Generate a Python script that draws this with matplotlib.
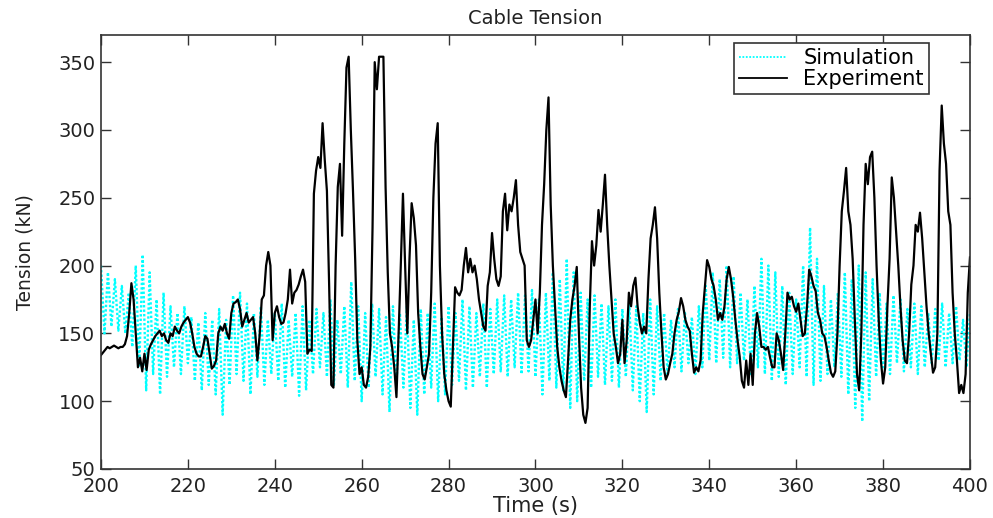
import numpy as np
import matplotlib
matplotlib.use("Agg")
import matplotlib.pyplot as plt

plt.rcParams['font.family'] = ['DejaVu Sans']

# Experiment: measured cable tension (kN), sampled every 0.5 s from 200 s
exp_start, exp_step = 200.0, 0.5
experiment = [
    134, 136, 138, 140, 139, 140, 141, 140, 139, 140,
    140, 142, 148, 165, 187, 175, 150, 125, 132, 122,
    135, 123, 138, 142, 145, 148, 150, 152, 148, 150,
    145, 143, 150, 148, 155, 152, 150, 155, 158, 160,
    162, 158, 150, 140, 135, 133, 133, 140, 148, 146,
    135, 124, 126, 130, 150, 155, 152, 157, 150, 146,
    165, 172, 173, 175, 168, 155, 160, 165, 158, 160,
    162, 150, 130, 148, 175, 178, 200, 210, 200, 145,
    165, 170, 162, 157, 158, 165, 175, 197, 172, 180,
    182, 186, 192, 197, 188, 135, 138, 137, 253, 270,
    280, 272, 305, 278, 255, 187, 112, 110, 200, 258,
    275, 222, 290, 346, 354, 300, 255, 205, 145, 120,
    125, 112, 110, 118, 140, 228, 350, 330, 354, 354,
    354, 258, 195, 150, 140, 125, 103, 150, 200, 253,
    200, 150, 205, 246, 235, 215, 165, 140, 120, 116,
    125, 135, 180, 250, 290, 305, 200, 150, 120, 108,
    100, 96, 140, 184, 180, 178, 182, 200, 213, 195,
    205, 195, 200, 190, 175, 165, 155, 152, 185, 195,
    224, 205, 190, 185, 192, 240, 253, 226, 245, 240,
    250, 263, 230, 210, 205, 200, 145, 140, 145, 160,
    175, 150, 180, 230, 260, 300, 324, 245, 200, 170,
    140, 125, 115, 108, 103, 130, 160, 175, 185, 199,
    150, 110, 90, 84, 95, 170, 218, 200, 215, 241,
    225, 245, 267, 230, 200, 175, 150, 140, 128, 135,
    160, 128, 145, 180, 170, 185, 191, 170, 158, 150,
    155, 150, 190, 220, 230, 243, 220, 180, 150, 125,
    116, 120, 128, 135, 150, 160, 166, 176, 170, 160,
    155, 152, 135, 121, 125, 122, 130, 165, 185, 204,
    199, 190, 185, 175, 160, 165, 160, 170, 190, 199,
    190, 177, 160, 145, 133, 115, 110, 130, 112, 135,
    112, 150, 165, 155, 140, 140, 138, 140, 132, 125,
    125, 150, 145, 135, 123, 150, 180, 175, 177, 170,
    166, 172, 160, 148, 150, 170, 197, 192, 185, 181,
    165, 160, 150, 148, 140, 130, 121, 118, 122, 150,
    200, 240, 255, 272, 240, 230, 205, 160, 120, 108,
    150, 230, 275, 260, 280, 284, 250, 200, 160, 130,
    113, 125, 170, 205, 265, 250, 225, 200, 170, 145,
    130, 128, 150, 186, 200, 230, 225, 239, 220, 195,
    170, 150, 135, 121, 125, 150, 270, 318, 290, 275,
    240, 230, 180, 150, 130, 106, 112, 106, 120, 180,
    206,
]

# Simulation: computed tension, alternating crests and troughs every 0.8 s
sim_step = 0.8
sim_crests = [
    200, 195, 190, 185, 180, 200, 208, 195, 175, 180,
    170, 165, 170, 162, 158, 165, 160, 168, 160, 178,
    180, 172, 165, 170, 160, 165, 172, 160, 165, 170,
    160, 168, 165, 175, 160, 170, 188, 170, 165, 172,
    168, 162, 170, 165, 170, 160, 168, 165, 172, 162,
    170, 165, 175, 170, 165, 172, 168, 175, 178, 175,
    180, 178, 182, 175, 180, 195, 190, 205, 195, 180,
    175, 178, 172, 170, 175, 168, 172, 170, 165, 175,
    170, 165, 160, 168, 165, 162, 170, 185, 195, 190,
    200, 192, 180, 175, 185, 205, 200, 195, 185, 180,
    175, 200, 228, 205, 185, 175, 180, 195, 190, 200,
    195, 190, 180, 172, 178, 175, 168, 172, 170, 165,
    168, 172, 165, 170, 160, 165,
]
sim_troughs = [
    150, 155, 152, 150, 140, 125, 108, 120, 105, 118,
    125, 120, 128, 115, 108, 112, 105, 90, 112, 120,
    115, 105, 118, 112, 120, 115, 110, 118, 104, 108,
    120, 125, 118, 112, 120, 110, 115, 100, 110, 118,
    105, 92, 112, 110, 95, 90, 105, 110, 100, 105,
    112, 115, 108, 110, 118, 110, 120, 122, 118, 125,
    120, 122, 118, 105, 115, 110, 108, 95, 100, 115,
    110, 118, 112, 115, 110, 118, 108, 100, 92, 105,
    115, 120, 125, 122, 128, 120, 125, 130, 128, 132,
    125, 128, 130, 120, 125, 120, 115, 118, 112, 120,
    125, 118, 112, 115, 120, 125, 118, 105, 95, 85,
    100, 118, 125, 120, 128, 122, 125, 120, 125, 128,
    130, 125, 128, 130, 125,
]

sim_values = []
for k, crest in enumerate(sim_crests):
    sim_values.append(crest)
    if k < len(sim_troughs):
        sim_values.append(sim_troughs[k])
sim_values = np.array(sim_values, dtype=float)
sim_t = 200.0 + sim_step * np.arange(len(sim_values))

exp_values = np.array(experiment, dtype=float)
exp_t = exp_start + exp_step * np.arange(len(exp_values))

x_ticks = [200, 220, 240, 260, 280, 300, 320, 340, 360, 380, 400]
y_ticks = [50, 100, 150, 200, 250, 300, 350]

fig = plt.figure(figsize=(9.93, 5.18), dpi=100)
ax = fig.add_axes([0.1017, 0.0946, 0.8751, 0.8378])

ax.plot(sim_t, sim_values, color='#00FFFF', lw=1.7,
        linestyle=(0, (1.0, 0.9)), label='Simulation')
ax.plot(exp_t, exp_values, color='black', lw=1.6, label='Experiment')

ax.set_xlim(200, 400)
ax.set_ylim(50, 370)
ax.set_xticks(x_ticks)
ax.set_yticks(y_ticks)
ax.tick_params(direction='in', length=7, width=1, top=True, right=True,
               labelsize=14, colors='#333333', labelcolor='#222222')
ax.tick_params(axis='x', pad=6)
ax.tick_params(axis='y', pad=4)
for sp in ax.spines.values():
    sp.set_color('#333333')
    sp.set_linewidth(1.2)

ax.set_title('Cable Tension', fontsize=14, color='#222222', pad=8)
ax.set_xlabel('Time (s)', fontsize=15, color='#222222', labelpad=0)
ax.set_ylabel('Tension (kN)', fontsize=13.5, color='#222222', labelpad=17)

leg = ax.legend(loc='upper left', bbox_to_anchor=(0.728, 0.982),
                fontsize=15, fancybox=False, framealpha=1,
                edgecolor='#333333', borderaxespad=0.0, handlelength=2.3,
                handletextpad=0.8, borderpad=0.25, labelspacing=0.05)
leg.get_frame().set_linewidth(1.2)
for line in leg.get_lines():
    line.set_linewidth(1.3)

fig.savefig('out.png', dpi=100)
